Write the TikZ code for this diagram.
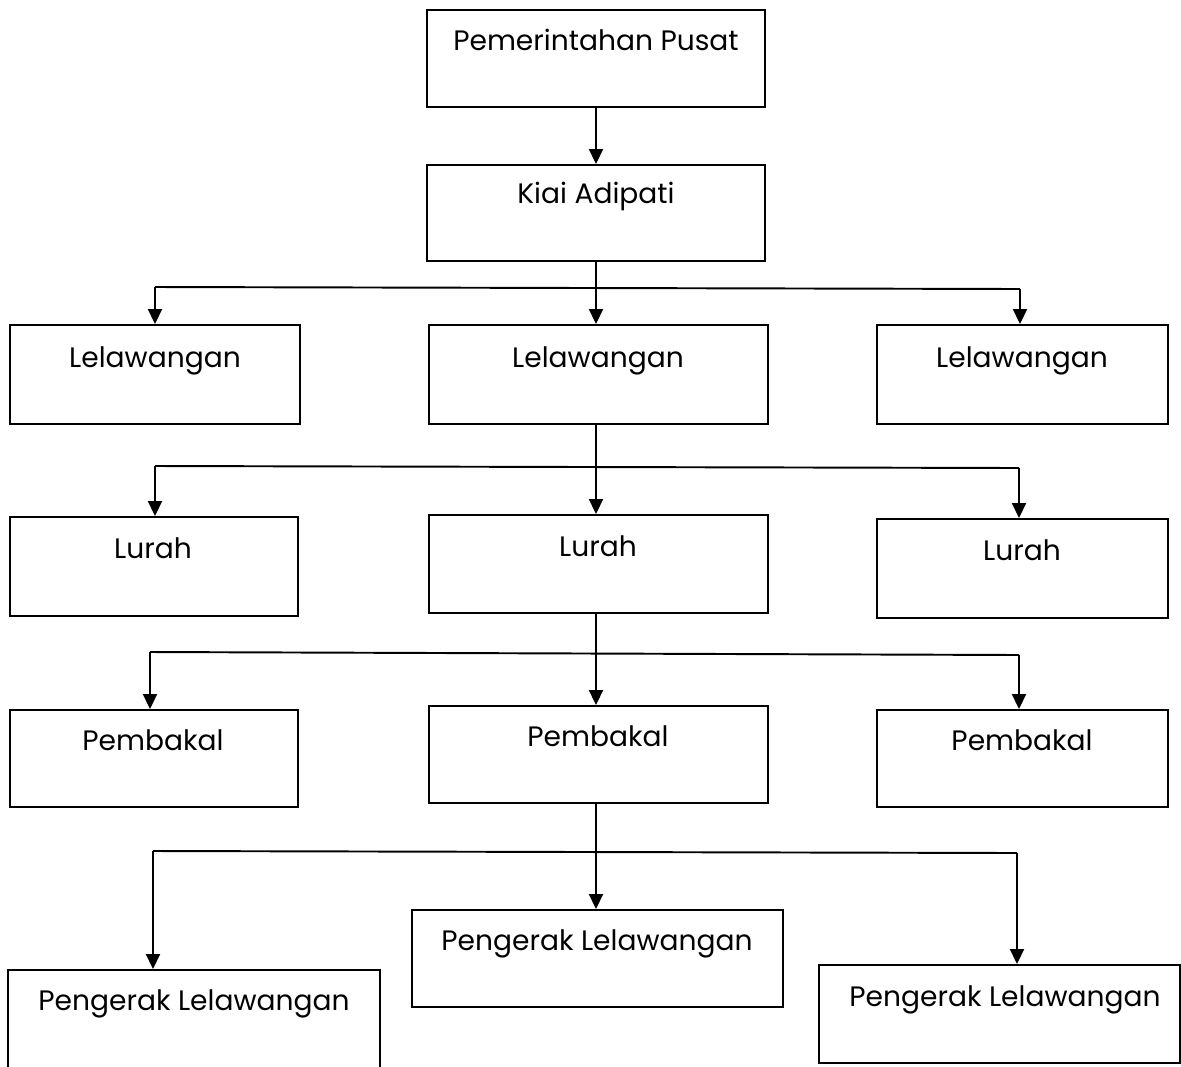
\documentclass[tikz,border=0pt]{standalone}
\usepackage{fontspec}
\setmainfont{Poppins}
\usetikzlibrary{fit,arrows.meta}
\begin{document}
\begin{tikzpicture}[x=0.02cm,y=-0.02cm,
  box/.style={draw,line width=1.1pt,inner sep=0pt},
  lbl/.style={anchor=base,inner sep=0pt,font=\fontsize{16}{18}\selectfont},
  ln/.style={line width=1.1pt},
  arr/.style={line width=1.1pt,-{Triangle[width=0.28cm,length=0.3cm]}}]
\useasboundingbox (0,0) rectangle (1181,1066);
\clip (0,0) rectangle (1181,1066);
% boxes
\node[box,fit={(427,10) (765,107)}] (pp) {};
\node[box,fit={(427,165) (765,261)}] (ka) {};
\node[box,fit={(10,325) (300,424)}] (l1) {};
\node[box,fit={(429,325) (768,424)}] (l2) {};
\node[box,fit={(877,325) (1168,424)}] (l3) {};
\node[box,fit={(10,517) (298,616)}] (u1) {};
\node[box,fit={(429,515) (768,613)}] (u2) {};
\node[box,fit={(877,519) (1168,618)}] (u3) {};
\node[box,fit={(10,710) (298,807)}] (b1) {};
\node[box,fit={(429,706) (768,803)}] (b2) {};
\node[box,fit={(877,710) (1168,807)}] (b3) {};
\node[box,fit={(8,970) (380,1090)}] (g1) {};
\node[box,fit={(412,910) (783,1007)}] (g2) {};
\node[box,fit={(819,965) (1180,1063)}] (g3) {};
% texts
\node[lbl] (tpp) at (596,50) {Pemerintahan Pusat};
\node[lbl] (tka) at (596,203) {Kiai Adipati};
\node[lbl] (tl1) at (155,367) {Lelawangan};
\node[lbl] (tl2) at (598,367) {Lelawangan};
\node[lbl] (tl3) at (1022,367) {Lelawangan};
\node[lbl] (tu1) at (153,558) {Lurah};
\node[lbl] (tu2) at (598,556) {Lurah};
\node[lbl] (tu3) at (1022,560) {Lurah};
\node[lbl] (tb1) at (153,750) {Pembakal};
\node[lbl] (tb2) at (598,746) {Pembakal};
\node[lbl] (tb3) at (1022,750) {Pembakal};
\node[lbl] (tg1) at (194,1010) {Pengerak Lelawangan};
\node[lbl] (tg2) at (597,950) {Pengerak Lelawangan};
\node[lbl] (tg3) at (1005,1006) {Pengerak Lelawangan};
% junction coordinates
\coordinate (mx) at (596,0);
\coordinate (h1l) at (155,287); \coordinate (h1r) at (1020,289);
\coordinate (h2l) at (155,466); \coordinate (h2r) at (1019,468);
\coordinate (h3l) at (150,652); \coordinate (h3r) at (1019,655);
\coordinate (h4l) at (153,851); \coordinate (h4r) at (1017,853);
% connectors
\draw[arr] (pp.south -| mx) -- (ka.north -| mx);
\draw[arr] (ka.south -| mx) -- (l2.north -| mx);
\draw[ln] (h1l) -- (h1r);
\draw[arr] (h1l) -- (h1l |- l1.north);
\draw[arr] (h1r) -- (h1r |- l3.north);
\draw[arr] (l2.south -| mx) -- (u2.north -| mx);
\draw[ln] (h2l) -- (h2r);
\draw[arr] (h2l) -- (h2l |- u1.north);
\draw[arr] (h2r) -- (h2r |- u3.north);
\draw[arr] (u2.south -| mx) -- (b2.north -| mx);
\draw[ln] (h3l) -- (h3r);
\draw[arr] (h3l) -- (h3l |- b1.north);
\draw[arr] (h3r) -- (h3r |- b3.north);
\draw[arr] (b2.south -| mx) -- (g2.north -| mx);
\draw[ln] (h4l) -- (h4r);
\draw[arr] (h4l) -- (h4l |- g1.north);
\draw[arr] (h4r) -- (h4r |- g3.north);
\end{tikzpicture}
\end{document}
